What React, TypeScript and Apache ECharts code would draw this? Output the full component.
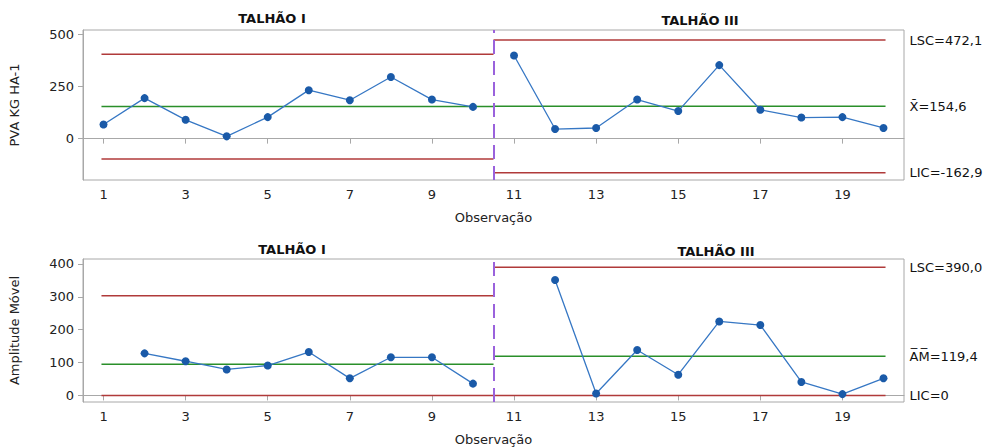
import React, { useEffect, useRef } from "react";
import * as echarts from "echarts";

// ---- data ----
const observations = [1, 2, 3, 4, 5, 6, 7, 8, 9, 10, 11, 12, 13, 14, 15, 16, 17, 18, 19, 20];
const stageOf = [1, 1, 1, 1, 1, 1, 1, 1, 1, 1, 2, 2, 2, 2, 2, 2, 2, 2, 2, 2];
const stageNames = ["TALHÃO I", "TALHÃO III"];
const pvaValues = [68, 194, 90, 11, 103, 232, 184, 295, 187, 152, 398, 46, 51, 187, 132, 352, 138, 101, 103, 51];
const mrValues = [null, 128, 104, 79, 91, 132, 52, 116, 116, 36, null, 351, 6, 138, 63, 225, 214, 41, 4, 52];

// control limits per stage
const pvaUCL = [404, 472.1];
const pvaCL = [153.5, 154.6];
const pvaLCL = [-97, -162.9];
const mrUCL = [303, 390.0];
const mrCL = [95, 119.4];
const mrLCL = [0, 0];

// labels for last stage
const pvaLimitLabels = ["LSC=472,1", "X\u0304=154,6", "LIC=-162,9"];
const mrLimitLabels = ["LSC=390,0", "A\u0305M\u0305=119,4", "LIC=0"];

// stage extents on x axis
const stageStart = [0.95, 10.5];
const stageEnd = [10.5, 20.05];
const stageBoundary = 10.5;

const xTicks = [1, 3, 5, 7, 9, 11, 13, 15, 17, 19];
const pvaTicks = [0, 250, 500];
const mrTicks = [0, 100, 200, 300, 400];

const FONT = "DejaVu Sans";
const RED = "#b03a3a";
const GREEN = "#2a8f2a";
const BLUE_LINE = "#3677c4";
const BLUE_DOT = "#1a5aa8";
const PURPLE = "#9a62dc";
const AXIS_GRAY = "#a8a8a8";

function dataSeries(values: (number | null)[], gridIdx: number) {
  const out: any[] = [];
  [1, 2].forEach((s) => {
    const pts: any[] = [];
    observations.forEach((o, i) => {
      if (stageOf[i] === s && values[i] !== null) pts.push([o, values[i]]);
    });
    out.push({
      type: "line",
      xAxisIndex: gridIdx,
      yAxisIndex: gridIdx,
      data: pts,
      symbol: "circle",
      symbolSize: 8,
      itemStyle: { color: BLUE_DOT },
      lineStyle: { color: BLUE_LINE, width: 1.3 },
      silent: true,
      z: 5,
    });
  });
  return out;
}

function limitSeries(
  ucl: number[],
  cl: number[],
  lcl: number[],
  labels: string[],
  gridIdx: number
) {
  const out: any[] = [];
  const defs = [
    { vals: ucl, color: RED },
    { vals: cl, color: GREEN },
    { vals: lcl, color: RED },
  ];
  defs.forEach((d, k) => {
    [0, 1].forEach((s) => {
      const last = s === 1;
      out.push({
        type: "line",
        xAxisIndex: gridIdx,
        yAxisIndex: gridIdx,
        data: [
          [stageStart[s], d.vals[s]],
          [stageEnd[s], d.vals[s]],
        ],
        symbol: "none",
        lineStyle: { color: d.color, width: 1.5 },
        silent: true,
        z: 3,
        endLabel: last
          ? {
              show: true,
              formatter: () => labels[k],
              distance: 24,
              color: "#111",
              fontFamily: FONT,
              fontSize: 13,
            }
          : { show: false },
      });
    });
  });
  // stage divider
  out.push({
    type: "line",
    xAxisIndex: gridIdx,
    yAxisIndex: gridIdx,
    data: [],
    silent: true,
    markLine: {
      silent: true,
      symbol: "none",
      label: { show: false },
      lineStyle: { color: PURPLE, width: 2, type: [14, 7] },
      data: [{ xAxis: stageBoundary }],
    },
  });
  return out;
}

function makeXAxis(gridIdx: number) {
  return {
    type: "value",
    gridIndex: gridIdx,
    min: 0.5,
    max: 20.5,
    name: "Observação",
    nameLocation: "middle",
    nameGap: 31,
    nameTextStyle: { fontFamily: FONT, fontSize: 13, color: "#222" },
    axisLine: { show: true, lineStyle: { color: AXIS_GRAY } },
    axisTick: { show: true, customValues: xTicks, length: 5, lineStyle: { color: AXIS_GRAY } },
    axisLabel: { customValues: xTicks, fontFamily: FONT, fontSize: 13, color: "#222", margin: 8 },
    splitLine: { show: false },
  };
}

function makeYAxis(gridIdx: number, min: number, max: number, ticks: number[], name: string) {
  return {
    type: "value",
    gridIndex: gridIdx,
    min,
    max,
    name,
    nameLocation: "middle",
    nameRotate: 90,
    nameGap: 62,
    nameTextStyle: { fontFamily: FONT, fontSize: 13, color: "#222" },
    axisLine: { show: true, lineStyle: { color: AXIS_GRAY } },
    axisTick: { show: true, customValues: ticks, length: 5, lineStyle: { color: AXIS_GRAY } },
    axisLabel: { customValues: ticks, fontFamily: FONT, fontSize: 13, color: "#222", margin: 9 },
    splitLine: { show: false },
  };
}

export default function App() {
  const ref = useRef<HTMLDivElement>(null);
  useEffect(() => {
    if (!ref.current) return;
    const chart = echarts.init(ref.current, null, { renderer: "svg" });
    const titleStyle = { fontFamily: FONT, fontSize: 13, fontWeight: "bold", fill: "#111" };
    chart.setOption({
      animation: false,
      backgroundColor: "#ffffff",
      grid: [
        { left: 83, top: 30, width: 821, height: 150, show: true, borderColor: AXIS_GRAY, borderWidth: 1 },
        { left: 83, top: 259, width: 821, height: 150, show: true, borderColor: AXIS_GRAY, borderWidth: 1 },
      ],
      xAxis: [makeXAxis(0), makeXAxis(1)],
      yAxis: [
        makeYAxis(0, -198, 520, pvaTicks, "PVA KG HA-1"),
        makeYAxis(1, -20, 415, mrTicks, "Amplitude Móvel"),
      ],
      graphic: [
        { type: "text", style: { ...titleStyle, text: stageNames[0], x: 272, y: 18, textAlign: "center", textVerticalAlign: "middle" } },
        { type: "text", style: { ...titleStyle, text: stageNames[1], x: 700, y: 20, textAlign: "center", textVerticalAlign: "middle" } },
        { type: "text", style: { ...titleStyle, text: stageNames[0], x: 292, y: 249, textAlign: "center", textVerticalAlign: "middle" } },
        { type: "text", style: { ...titleStyle, text: stageNames[1], x: 716, y: 251, textAlign: "center", textVerticalAlign: "middle" } },
      ],
      series: [
        ...limitSeries(pvaUCL, pvaCL, pvaLCL, pvaLimitLabels, 0),
        ...limitSeries(mrUCL, mrCL, mrLCL, mrLimitLabels, 1),
        ...dataSeries(pvaValues, 0),
        ...dataSeries(mrValues, 1),
      ],
    });
    return () => chart.dispose();
  }, []);
  return <div ref={ref} style={{ width: 997, height: 447, position: "absolute", left: 0, top: 0 }} />;
}
